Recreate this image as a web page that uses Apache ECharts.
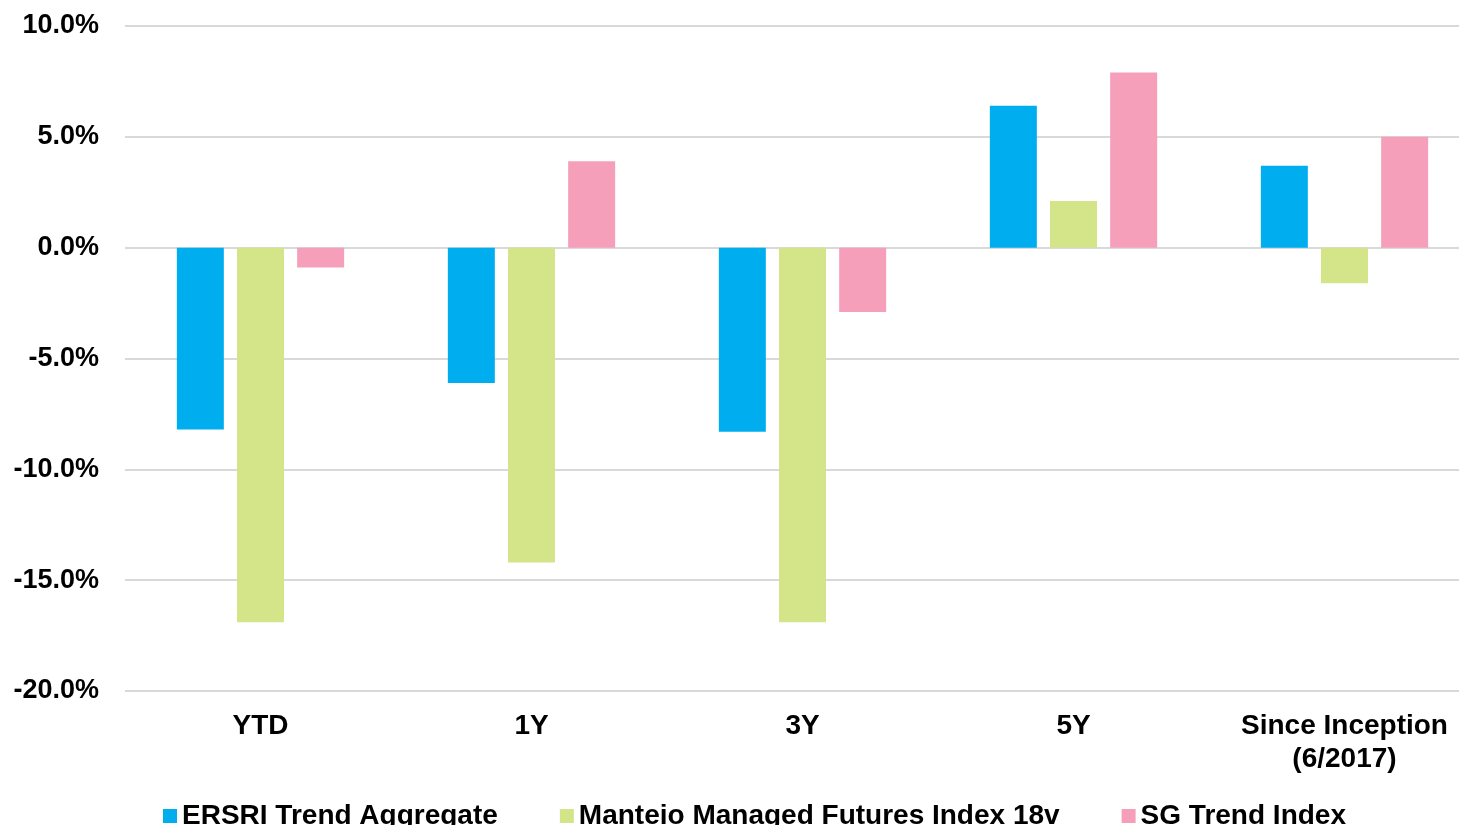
<!DOCTYPE html>
<html>
<head>
<meta charset="utf-8">
<script src="https://cdn.jsdelivr.net/npm/echarts@6/dist/echarts.min.js"></script>
<style>
  html, body { margin: 0; padding: 0; background: #fff; overflow: hidden; }
  /* the plot area runs a little past the right edge of the window */
  #chart { width: 1480px; height: 825px; }
</style>
</head>
<body>
<div id="chart"></div>
<script>
// periods and returns (%)
const categories = ['YTD', '1Y', '3Y', '5Y', 'Since Inception\n(6/2017)']
const ersri = [-8.2, -6.1, -8.3, 6.4, 3.7]
const manteio = [-16.9, -14.2, -16.9, 2.1, -1.6]
const sgTrend = [-0.9, 3.9, -2.9, 7.9, 5.0]
const seriesNames = ['ERSRI Trend Aggregate', 'Manteio Managed Futures Index 18v', 'SG Trend Index']
const colorList = ['#00AEEF', '#D3E588', '#F59FBB']

const chart = echarts.init(document.getElementById('chart'))
const font = 'Liberation Sans, Arial, sans-serif'

const makeSeries = (name, data, color) => ({
  name: name,
  type: 'bar',
  data: data,
  barWidth: 47,
  barGap: '28%',
  itemStyle: { color: color },
  emphasis: { disabled: true }
})

const option = {
  backgroundColor: '#fff',
  animation: false,
  textStyle: { fontFamily: font },
  legend: {
    left: 158,
    top: 797,
    itemWidth: 14,
    itemHeight: 14,
    itemGap: 62,
    icon: 'rect',
    textStyle: {
      fontSize: 28,
      fontWeight: 'bold',
      color: '#000',
      fontFamily: font
    }
  },
  grid: {
    left: 125,
    top: 26,
    right: 0,
    bottom: 134
  },
  xAxis: {
    type: 'category',
    data: categories,
    axisLine: { show: false, onZero: false },
    axisTick: { show: false },
    axisLabel: {
      interval: 0,
      margin: 19,
      fontSize: 28,
      fontWeight: 'bold',
      color: '#000',
      lineHeight: 33,
      fontFamily: font
    }
  },
  yAxis: {
    type: 'value',
    min: -20,
    max: 10,
    interval: 5,
    axisLine: { show: false },
    axisTick: { show: false },
    splitLine: { lineStyle: { color: '#D9D9D9', width: 2 } },
    axisLabel: {
      margin: 26,
      fontSize: 27,
      fontWeight: 'bold',
      color: '#000',
      fontFamily: font,
      formatter: v => v.toFixed(1) + '%'
    }
  },
  series: [
    makeSeries(seriesNames[0], ersri, colorList[0]),
    makeSeries(seriesNames[1], manteio, colorList[1]),
    makeSeries(seriesNames[2], sgTrend, colorList[2])
  ]
}

chart.setOption(option)
</script>
</body>
</html>
